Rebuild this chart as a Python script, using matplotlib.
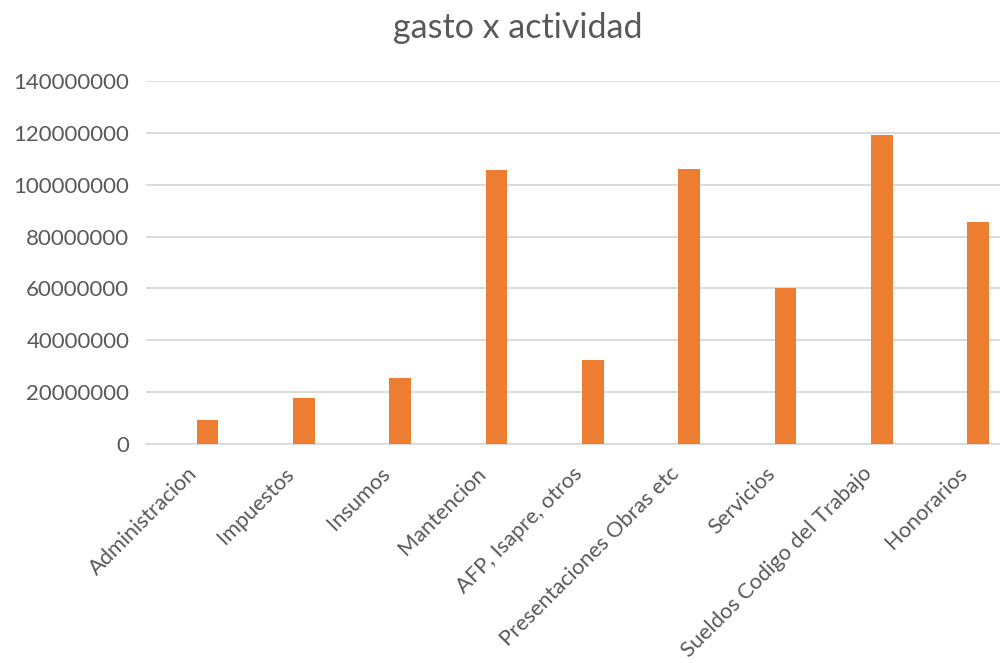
import matplotlib
matplotlib.use("Agg")
import matplotlib.pyplot as plt
import matplotlib.transforms as mtransforms
import numpy as np

categorias = ['Administracion', 'Impuestos', 'Insumos', 'Mantencion', 'AFP, Isapre, otros',
              'Presentaciones Obras etc', 'Servicios', 'Sueldos Codigo del Trabajo', 'Honorarios']
gasto = [9300000, 17900000, 25500000, 105500000, 32400000,
         106000000, 60000000, 119300000, 85600000]
y_ticks = [0, 20000000, 40000000, 60000000, 80000000, 100000000, 120000000, 140000000]

plt.rcParams['font.family'] = ['Lato', 'DejaVu Sans']
texto = '#595959'
naranja = '#ED7D31'
gris = '#D9D9D9'

fig = plt.figure(figsize=(10, 6.63), dpi=100)
ax = fig.add_axes([0.146, 219 / 663, 0.854, 363 / 663])

x = np.arange(len(categorias))
ax.bar(x + 0.14, gasto, width=0.225, color=naranja, zorder=3)

ax.set_ylim(0, 140000000)
ax.set_xlim(-0.5, -0.5 + 854 / 96.3)
ax.set_yticks(y_ticks)
ax.set_yticklabels([str(v) for v in y_ticks])
ax.set_xticks(x)
ax.set_xticklabels(categorias, rotation=45, ha='right', rotation_mode='anchor')

ax.grid(axis='y', color=gris, linewidth=1.3, zorder=0)
for s in ['top', 'right', 'left']:
    ax.spines[s].set_visible(False)
ax.spines['bottom'].set_color(gris)
ax.spines['bottom'].set_linewidth(1.3)
ax.tick_params(axis='y', length=0, colors=texto, labelsize=16, pad=12)
ax.tick_params(axis='x', length=0, colors=texto, labelsize=15.7, pad=14)

# desplazar etiquetas del eje x un poco a la izquierda
desp = mtransforms.ScaledTranslation(-7 / 100, 0, fig.dpi_scale_trans)
for lbl in ax.get_xticklabels():
    lbl.set_transform(lbl.get_transform() + desp)

fig.text(0.518, 0.958, 'gasto x actividad', ha='center', va='center', fontsize=24.5, color=texto)

fig.savefig('out.png', dpi=100)
